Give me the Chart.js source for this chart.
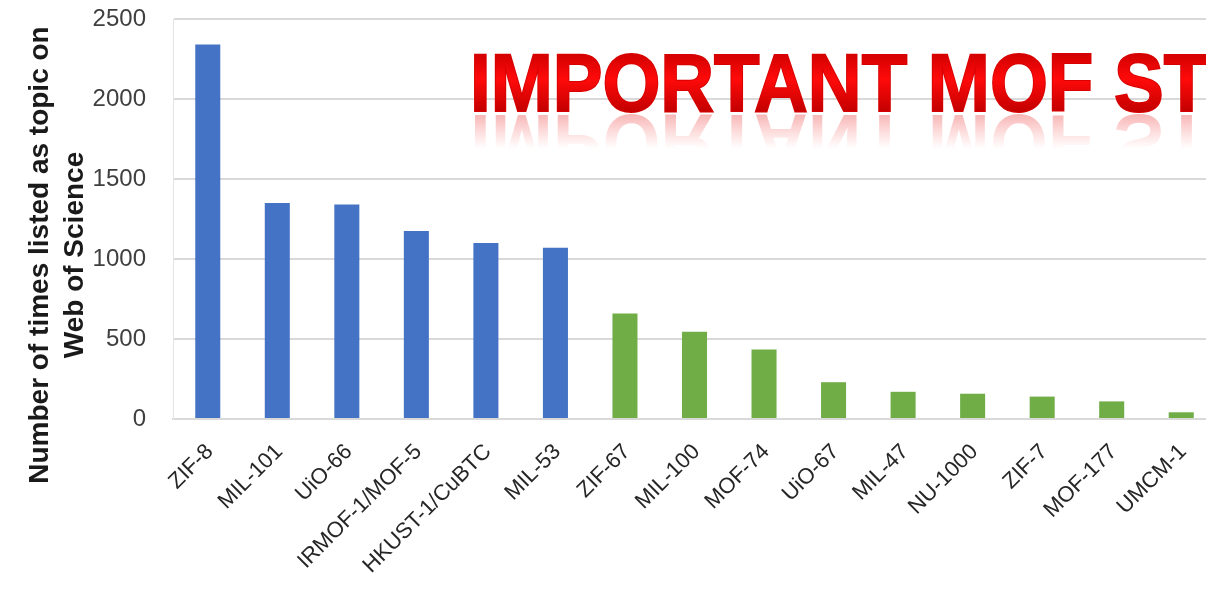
<!DOCTYPE html>
<html>
<head>
<meta charset="utf-8">
<script src="https://cdn.jsdelivr.net/npm/chart.js@4/dist/chart.umd.min.js"></script>
<style>
  html, body { margin: 0; padding: 0; background: #fff; overflow: hidden; }
  #wrap { position: relative; width: 1216px; height: 593px; }
</style>
</head>
<body>
<div id="wrap"><canvas id="myChart"></canvas></div>
<script>
// values
const categories = ['ZIF-8', 'MIL-101', 'UiO-66', 'IRMOF-1/MOF-5', 'HKUST-1/CuBTC', 'MIL-53',
    'ZIF-67', 'MIL-100', 'MOF-74', 'UiO-67', 'MIL-47', 'NU-1000', 'ZIF-7', 'MOF-177', 'UMCM-1'];
const topicCounts = [2340, 1350, 1340, 1175, 1100, 1070, 660, 545, 435, 230, 170, 158, 140, 110, 42];
const yTicks = [0, 500, 1000, 1500, 2000, 2500];
const yTitle = ['Number of times listed as topic on', 'Web of Science'];
const overlayTitle = 'IMPORTANT MOF STRUCTURES';
const mostStudied = 6; // first six bars are drawn in blue

const BLUE = '#4472C4';
const GREEN = '#70AD47';
const FONT = '"Liberation Sans", Arial, sans-serif';

// y axis title, drawn by hand so it can sit a little below the centre like the original
const yTitlePlugin = {
    id: 'yTitle',
    afterDraw(chart) {
        const ctx = chart.ctx;
        ctx.save();
        ctx.font = 'bold 28px ' + FONT;
        ctx.fillStyle = '#1a1a1a';
        ctx.textAlign = 'center';
        ctx.textBaseline = 'middle';
        ctx.translate(0, 255);
        ctx.rotate(-Math.PI / 2);
        ctx.fillText(yTitle[0], 0, 40);
        ctx.fillText(yTitle[1], 0, 75);
        ctx.restore();
    }
};

// big red heading with a mirrored fade underneath
const headingPlugin = {
    id: 'heading',
    afterDatasetsDraw(chart) {
        const ctx = chart.ctx;
        const x = 470, base = 111, size = 81;
        ctx.save();
        ctx.font = 'bold ' + size + 'px ' + FONT;
        ctx.textBaseline = 'alphabetic';
        ctx.textAlign = 'left';
        const sx = 644 / ctx.measureText('IMPORTANT MOF ').width;

        // reflection
        ctx.save();
        ctx.translate(x, 2 * base + 4);
        ctx.scale(sx, -1);
        const rg = ctx.createLinearGradient(0, base, 0, base - 34);
        rg.addColorStop(0, 'rgba(230,30,30,0.32)');
        rg.addColorStop(1, 'rgba(255,60,60,0)');
        ctx.fillStyle = rg;
        ctx.fillText(overlayTitle, 0, base);
        ctx.restore();

        // main text
        ctx.translate(x, 0);
        ctx.scale(sx, 1);
        const g = ctx.createLinearGradient(0, base - 58, 0, base);
        g.addColorStop(0, '#d00000');
        g.addColorStop(0.45, '#ff0a0a');
        g.addColorStop(1, '#c40000');
        ctx.fillStyle = g;
        ctx.strokeStyle = '#d80000';
        ctx.lineWidth = 2;
        ctx.strokeText(overlayTitle, 0, base);
        ctx.fillText(overlayTitle, 0, base);
        ctx.restore();
    }
};

const ctx = document.getElementById('myChart').getContext('2d');
const chart = new Chart(ctx, {
    type: 'bar',
    data: {
        labels: categories,
        datasets: [{
            data: topicCounts,
            backgroundColor: topicCounts.map((v, i) => i < mostStudied ? BLUE : GREEN),
            barPercentage: 0.36,
            categoryPercentage: 1.0,
        }]
    },
    options: {
        responsive: true,
        maintainAspectRatio: false,
        animation: false,
        layout: { padding: { top: 19, right: 0, left: 0, bottom: 0 } },
        plugins: {
            legend: { display: false },
            tooltip: { enabled: false },
        },
        scales: {
            x: {
                grid: { display: false },
                border: { color: '#d9d9d9', width: 2 },
                ticks: {
                    autoSkip: false,
                    minRotation: 45,
                    maxRotation: 45,
                    padding: 12,
                    labelOffset: 2,
                    color: '#262626',
                    font: { family: FONT, size: 22 },
                },
                afterFit(scale) { scale.height = 174; },
            },
            y: {
                min: 0,
                max: 2500,
                afterBuildTicks(scale) { scale.ticks = yTicks.map(v => ({ value: v })); },
                grid: { color: '#d9d9d9', lineWidth: 2, drawTicks: false },
                border: { color: '#e4e4e4', width: 1 },
                ticks: {
                    padding: 27,
                    color: '#404040',
                    font: { family: FONT, size: 24 },
                    callback: v => String(v),
                },
                afterFit(scale) {
                    scale.width = 173;
                    // tick padding would otherwise push the plot top down
                    scale.paddingTop = 0;
                    scale.paddingBottom = 0;
                },
            }
        }
    },
    plugins: [headingPlugin, yTitlePlugin]
});
</script>
</body>
</html>
